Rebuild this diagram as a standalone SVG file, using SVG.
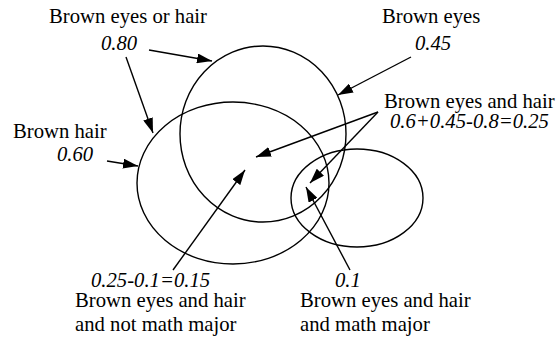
<svg xmlns="http://www.w3.org/2000/svg" width="558" height="339" viewBox="0 0 558 339">
<style>
.sh{fill:none;stroke:#000;stroke-width:1.4}
.t{font-family:'Liberation Serif','Times New Roman',serif;font-size:20.7px;fill:#000}
.i{font-style:italic}
.c line{stroke:#000;stroke-width:1.4;marker-end:url(#ah)}
</style>
<defs>
<marker id="ah" markerUnits="userSpaceOnUse" markerWidth="15" markerHeight="10" refX="15" refY="5" orient="auto" viewBox="0 0 15 10">
<path d="M0,0 L15,5 L0,10 z" fill="#000"/>
</marker>
</defs>
<rect width="558" height="339" fill="#fff"/>
<g id="brown-eyes"><ellipse class="sh" cx="263" cy="134" rx="83" ry="88"/></g>
<g id="brown-hair"><ellipse class="sh" cx="233" cy="183" rx="96" ry="81"/></g>
<g id="math-major"><ellipse class="sh" cx="357" cy="198" rx="66" ry="49"/></g>
<g id="labels">
<text class="t" x="49" y="23">Brown eyes or hair</text>
<text class="t i" x="101" y="50">0.80</text>
<text class="t" x="13" y="138">Brown hair</text>
<text class="t i" x="57" y="161">0.60</text>
<text class="t" x="382" y="23">Brown eyes</text>
<text class="t i" x="415" y="50">0.45</text>
<text class="t" x="384" y="108">Brown eyes and hair</text>
<text class="t i" x="390" y="128">0.6+0.45-0.8=0.25</text>
<text class="t i" x="91" y="287">0.25-0.1=0.15</text>
<text class="t" x="75" y="307">Brown eyes and hair</text>
<text class="t" x="75" y="331">and not math major</text>
<text class="t i" x="335" y="287">0.1</text>
<text class="t" x="300" y="307">Brown eyes and hair</text>
<text class="t" x="300" y="331">and math major</text>
</g>
<g id="connectors" class="c">
<line x1="149" y1="50" x2="212" y2="61"/>
<line x1="126" y1="57" x2="153" y2="133"/>
<line x1="107" y1="161" x2="138" y2="166"/>
<line x1="411" y1="57" x2="338" y2="95"/>
<line x1="378" y1="112" x2="256" y2="157"/>
<line x1="378" y1="112" x2="310" y2="183"/>
<line x1="173" y1="270" x2="245" y2="170"/>
<line x1="350" y1="270" x2="306" y2="187"/>
</g>
</svg>
